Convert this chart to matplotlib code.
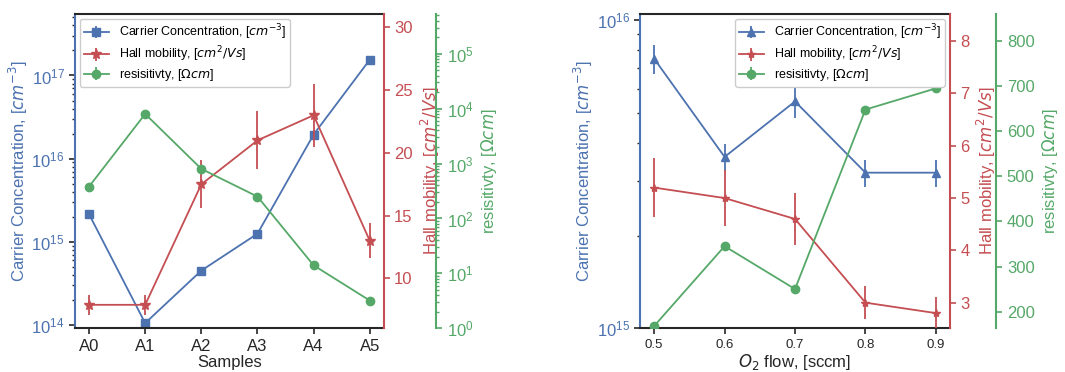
import matplotlib
matplotlib.use('Agg')
import matplotlib.pyplot as plt
from matplotlib.ticker import NullFormatter

plt.rcParams['font.family'] = ['Liberation Sans', 'DejaVu Sans']
plt.rcParams['axes.linewidth'] = 1.5

BLUE = '#4C72B0'
RED = '#C44E52'
GREEN = '#55A868'
DARK = '#262626'

# ---- data: left panel ----
samples = ['A0', 'A1', 'A2', 'A3', 'A4', 'A5']
cc_a = [2.15e15, 1.05e14, 4.5e14, 1.25e15, 1.95e16, 1.55e17]
cc_a_err = [0, 0, 0, 0, 0, 0]
mob_a = [7.9, 7.9, 17.5, 21.0, 23.0, 13.0]
mob_a_err = [0.8, 0.8, 1.9, 2.3, 2.5, 1.4]
res_a = [380, 8000, 800, 250, 14, 3.2]
res_a_err = [0, 0, 0, 0, 0, 0]

# ---- data: right panel ----
o2_flow = [0.5, 0.6, 0.7, 0.8, 0.9]
cc_b = [7.5e15, 3.6e15, 5.45e15, 3.2e15, 3.2e15]
cc_b_err = [0.8e15, 0.36e15, 0.65e15, 0.33e15, 0.33e15]
mob_b = [5.2, 5.0, 4.6, 3.0, 2.8]
mob_b_err = [0.57, 0.54, 0.5, 0.32, 0.3]
res_b = [168, 345, 250, 648, 695]
res_b_err = [0, 0, 0, 0, 0]

lbl_cc = r'Carrier Concentration, [$cm^{-3}$]'
lbl_mob = r'Hall mobility, [$cm^2/Vs$]'
lbl_res = r'resisitivty, [$\Omega cm$]'

fig = plt.figure(figsize=(10.65, 3.72), dpi=100)


def make_axes(rect, offset):
    ax = fig.add_axes(rect)
    ax2 = ax.twinx()
    ax3 = ax.twinx()
    ax3.spines['right'].set_position(('axes', offset))
    ax.spines['left'].set_color(BLUE)
    ax.spines['right'].set_visible(False)
    ax.spines['top'].set_color(DARK)
    ax.spines['bottom'].set_color(DARK)
    for a in (ax2, ax3):
        a.spines['left'].set_visible(False)
        a.spines['top'].set_visible(False)
        a.spines['bottom'].set_visible(False)
    ax2.spines['right'].set_color(RED)
    ax3.spines['right'].set_color(GREEN)
    ax.tick_params(axis='y', which='both', labelcolor=BLUE, color=DARK)
    ax.tick_params(axis='x', colors=DARK)
    ax2.tick_params(axis='y', which='both', colors=RED)
    ax3.tick_params(axis='y', which='both', colors=GREEN)
    for a in (ax, ax2, ax3):
        a.tick_params(which='major', length=4, width=1.2, labelsize=12)
        a.tick_params(which='minor', length=2.5, width=1.0)
    return ax, ax2, ax3


legend_kw = dict(fontsize=9, borderaxespad=0.4, borderpad=0.3,
                 labelspacing=0.2, edgecolor='#cccccc', framealpha=1)

lw = 1.3
# ---------------- left panel ----------------
ax, ax2, ax3 = make_axes([0.0704, 0.1175, 0.290, 0.845], 1.17)
x = list(range(len(samples)))
h1 = ax.errorbar(x, cc_a, yerr=cc_a_err, color=BLUE, marker='s', ms=6, lw=lw, elinewidth=lw)
h2 = ax2.errorbar(x, mob_a, yerr=mob_a_err, color=RED, marker='*', ms=7, lw=lw, elinewidth=lw)
h3 = ax3.errorbar(x, res_a, yerr=res_a_err, color=GREEN, marker='o', ms=6, lw=lw, elinewidth=lw)
ax.set_yscale('log')
ax.set_ylim(0.91e14, 5.5e17)
ax2.set_ylim(6.03, 31.07)
ax2.set_yticks([10, 15, 20, 25, 30])
ax3.set_yscale('log')
ax3.set_ylim(1, 5.3e5)
ax.set_xticks(x)
ax.set_xticklabels(samples)
ax.set_xlabel('Samples', fontsize=12, color=DARK, labelpad=1)
ax.set_ylabel(lbl_cc, color=BLUE, fontsize=12, labelpad=1)
ax2.set_ylabel(lbl_mob, color=RED, fontsize=12)
ax3.set_ylabel(lbl_res, color=GREEN, fontsize=12)
ax3.legend([h1, h2, h3], [lbl_cc, lbl_mob, lbl_res], loc='upper left', **legend_kw)

# ---------------- right panel ----------------
bx, bx2, bx3 = make_axes([0.601, 0.1175, 0.291, 0.845], 1.15)
g1 = bx.errorbar(o2_flow, cc_b, yerr=cc_b_err, color=BLUE, marker='^', ms=6, lw=lw, elinewidth=lw)
g2 = bx2.errorbar(o2_flow, mob_b, yerr=mob_b_err, color=RED, marker='*', ms=6, lw=lw, elinewidth=lw)
g3 = bx3.errorbar(o2_flow, res_b, yerr=res_b_err, color=GREEN, marker='o', ms=6, lw=lw, elinewidth=lw)
bx.set_yscale('log')
bx.set_ylim(1e15, 1.048e16)
bx.yaxis.set_minor_formatter(NullFormatter())
bx2.set_ylim(2.51, 8.52)
bx3.set_ylim(163, 860)
bx3.set_yticks([200, 300, 400, 500, 600, 700, 800])
bx.set_xticks(o2_flow)
bx.tick_params(axis='x', labelsize=9.5)
bx.set_xlabel(r'$O_2$ flow, [sccm]', fontsize=12, color=DARK, labelpad=1)
bx.set_ylabel(lbl_cc, color=BLUE, fontsize=12, labelpad=1)
bx2.set_ylabel(lbl_mob, color=RED, fontsize=12)
bx3.set_ylabel(lbl_res, color=GREEN, fontsize=12)
bx3.legend([g1, g2, g3], [lbl_cc, lbl_mob, lbl_res], loc='upper right', **legend_kw)

fig.savefig('out.png', dpi=100)
